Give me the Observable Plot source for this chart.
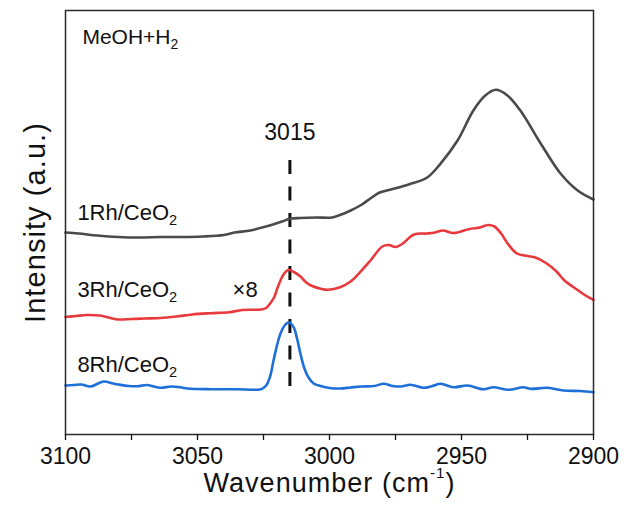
<!DOCTYPE html>
<html><head><meta charset="utf-8">
<script src="https://cdn.jsdelivr.net/npm/d3@7"></script>
<script src="https://cdn.jsdelivr.net/npm/@observablehq/plot@0.6"></script>
<style>body{margin:0;background:#fff} #chart{width:624px;height:513px}</style>
</head><body><div id="chart"></div>
<script>
const FONT = "Arial, 'Liberation Sans', Helvetica, sans-serif";

// x axis ticks (wavenumber, cm-1)
const xTicks = [3100, 3050, 3000, 2950, 2900];
const xMinorTicks = [3075, 3025, 2975, 2925];

// series: [wavenumber, intensity (a.u., offset)]
const rh1 = [[3100,202],[3095,201],[3088,199],[3080,197.5],[3072,197],[3064,197.5],[3056,197.5],[3048,198],[3040,199.5],[3036,202],[3030,204],[3024,208],[3018,213],[3015,215.7],[3011,216.5],[3005,217],[2999,217],[2995,220.5],[2992,224],[2988,229.5],[2984,237],[2981,242],[2976,245.5],[2970,250],[2963,257],[2958,270.7],[2951.5,294],[2945.5,324],[2941,339],[2937,344.7],[2932.6,339],[2927.7,324],[2920,291],[2912.5,261],[2906,244],[2900,235]];

const rh3 = [[3100,117.5],[3096,118.5],[3092,119.5],[3087,119],[3083,116.5],[3080,115],[3075,115.5],[3070,116],[3064,116.5],[3058,118],[3052,120],[3045,121.3],[3038,122.3],[3033,124.5],[3026,125],[3024,126.5],[3022.5,131],[3021,137],[3019.5,148],[3017.4,160],[3015.5,164.7],[3013.5,162.5],[3011,158],[3009,152.5],[3007,149],[3003,145.5],[3000.5,144.7],[2996,147.3],[2992,153],[2989,160.7],[2984.5,174],[2980,188],[2977.5,189.5],[2975,187.5],[2972.5,190.5],[2968,200],[2963,201],[2960,202],[2957,204],[2953,201.5],[2947,205.5],[2943,207],[2940,209.5],[2937.5,208],[2935,201],[2932.5,191],[2929,181],[2925,178.5],[2922,177],[2918,171.5],[2914,163],[2911,154],[2906,144.5],[2903,139],[2900,134.7]];

const rh8 = [[3100,49],[3097,49.5],[3094,50],[3090.5,48],[3085.6,53],[3082,51],[3080,50],[3076,48.5],[3072.7,48.3],[3069,49.5],[3064,46.7],[3060,48],[3056,47],[3053.8,46],[3045,45.3],[3035,45.3],[3026,45.3],[3024,49],[3022.5,58],[3021.2,74],[3019.8,90],[3018.6,100.7],[3017,109],[3015.4,112.3],[3013.6,107.3],[3012.3,96],[3011,80.7],[3009.5,66],[3008,57.3],[3006,51],[3003.4,48.5],[3000,46.5],[2996,46],[2992,47],[2988,48],[2983,48.5],[2979.5,50.7],[2976,48.5],[2973,48],[2969.3,49.7],[2964.4,46.7],[2961,48.5],[2957.9,50.7],[2953,47.3],[2947.7,49],[2941.7,45.3],[2937.9,47.3],[2932.2,44.7],[2926.5,47.3],[2923.9,45.7],[2917.4,46.7],[2911.4,44],[2905,43.5],[2900,42.3]];

// annotations: text with anchor in data coordinates
const markerWn = 3015;
const markerRange = [274, 42];
const sampleLabels = [
  {text: "1Rh/CeO_{2}", wn: 3095.5, v: 215},
  {text: "3Rh/CeO_{2}", wn: 3095.5, v: 138},
  {text: "8Rh/CeO_{2}", wn: 3095.5, v: 63}
];
const scaleLabel = [{text: "×8", wn: 3036.7, v: 138}];
const peakLabel = [{text: "3015", wn: 3015, v: 295}];
const gasLabel = [{text: "MeOH+H_{2}", wn: 3093.6, v: 390.5}];

const toRows = a => a.map(([wn, v]) => ({wn, v}));

const chart = Plot.plot({
  width: 624, height: 513,
  marginLeft: 65, marginRight: 31, marginTop: 10, marginBottom: 79,
  style: {fontFamily: FONT, background: "#fff", color: "#111"},
  x: {domain: [3100, 2900]},
  y: {domain: [0, 424], axis: null},
  marks: [
    Plot.ruleX([markerWn], {y1: markerRange[0], y2: markerRange[1], stroke: "#111", strokeWidth: 3, strokeDasharray: "14,12.5"}),
    Plot.line(toRows(rh1), {x: "wn", y: "v", stroke: "#4a4a4a", strokeWidth: 2.6, curve: "catmull-rom"}),
    Plot.line(toRows(rh3), {x: "wn", y: "v", stroke: "#e8393d", strokeWidth: 2.6, curve: "catmull-rom"}),
    Plot.line(toRows(rh8), {x: "wn", y: "v", stroke: "#1f6fd8", strokeWidth: 2.6, curve: "catmull-rom"}),
    Plot.frame({stroke: "#2a2a2a", strokeWidth: 1.5}),
    Plot.axisX(xTicks, {tickSize: 6, tickPadding: 7, fontSize: 23, tickFormat: d => String(d), label: null, strokeWidth: 1.3}),
    Plot.axisX(xMinorTicks, {tickSize: 6, tickFormat: () => "", label: null, strokeWidth: 1.3}),
    Plot.text(sampleLabels, {x: "wn", y: "v", text: "text", textAnchor: "start", lineAnchor: "bottom", fontSize: 22, fill: "#111"}),
    Plot.text(scaleLabel, {x: "wn", y: "v", text: "text", textAnchor: "start", lineAnchor: "bottom", fontSize: 22, fill: "#111"}),
    Plot.text(peakLabel, {x: "wn", y: "v", text: "text", textAnchor: "middle", lineAnchor: "bottom", fontSize: 23, fill: "#111"}),
    Plot.text(gasLabel, {x: "wn", y: "v", text: "text", textAnchor: "start", lineAnchor: "bottom", fontSize: 21, fill: "#111"}),
    Plot.text(["Wavenumber (cm^{-1})"], {frameAnchor: "bottom", textAnchor: "middle", dy: 57, lineAnchor: "bottom", fontSize: 27, fill: "#111"}),
    Plot.text(["Intensity (a.u.)"], {frameAnchor: "left", textAnchor: "middle", dx: -21, rotate: -90, lineAnchor: "bottom", fontSize: 29, fill: "#111"})
  ]
});
document.getElementById("chart").appendChild(chart);

// rich text: _{..} subscript, ^{..} superscript
const NS = "http://www.w3.org/2000/svg";
const fitWidth = {"Intensity (a.u.)": 201, "Wavenumber (cm^{-1})": 252};
chart.querySelectorAll("text").forEach(t => {
  const s = t.textContent;
  const target = fitWidth[s];
  if (/[_^]\{/.test(s)) {
    const fs = parseFloat(getComputedStyle(t).fontSize) || 20;
    const parts = s.split(/([_^]\{[^}]*\})/).filter(p => p.length);
    t.textContent = "";
    let shift = 0;
    parts.forEach(p => {
      const ts = document.createElementNS(NS, "tspan");
      let off = 0, size = null, txt = p;
      if (p.startsWith("_{")) { off = 0.24 * fs; size = 0.66 * fs; txt = p.slice(2, -1); }
      else if (p.startsWith("^{")) { off = -0.5 * fs; size = 0.56 * fs; txt = p.slice(2, -1); }
      const dy = off - shift;
      if (dy) ts.setAttribute("dy", dy);
      if (size) ts.setAttribute("font-size", size);
      shift = off;
      ts.textContent = txt;
      t.appendChild(ts);
    });
  }
  if (target) {
    const len = t.getComputedTextLength();
    const n = t.textContent.length;
    if (len < target && n > 1) t.style.letterSpacing = ((target - len) / n) + "px";
  }
});
</script></body></html>
